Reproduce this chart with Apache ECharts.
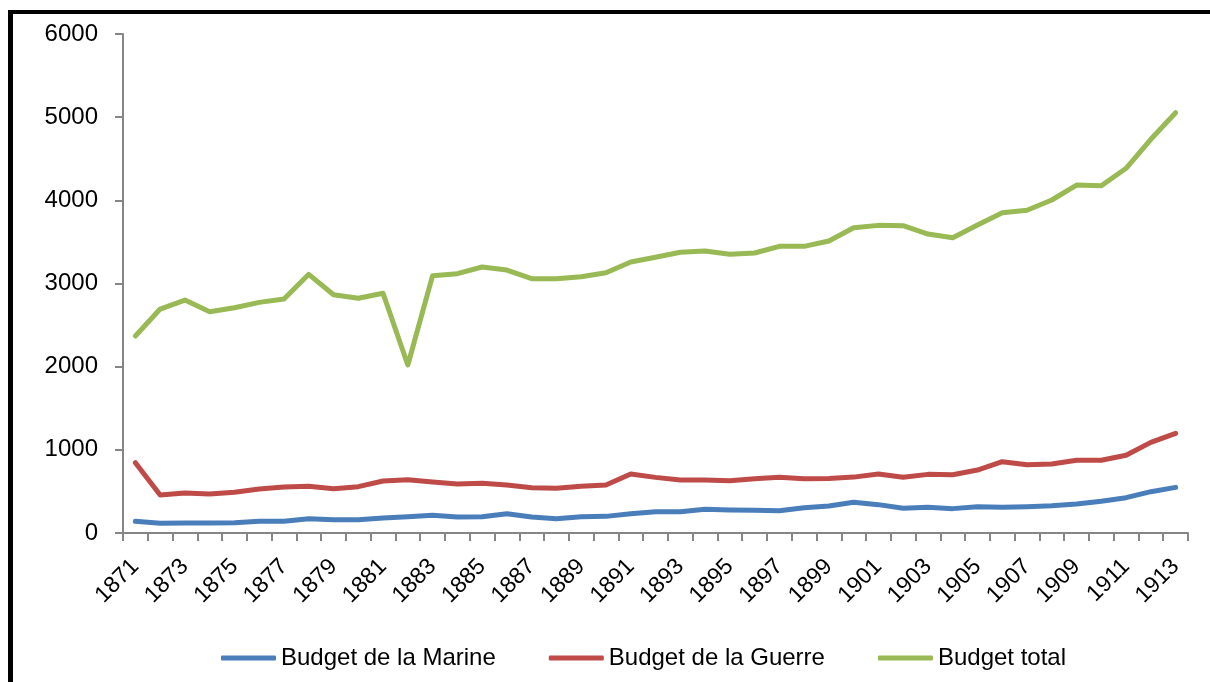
<!DOCTYPE html>
<html>
<head>
<meta charset="utf-8">
<title>Budgets 1871-1913</title>
<script src="https://cdn.jsdelivr.net/npm/echarts@6/dist/echarts.min.js"></script>
<style>
  html, body { margin: 0; padding: 0; background: #fff; }
  #wrap { position: relative; width: 1210px; height: 682px; overflow: hidden; }
  #chart { width: 1210px; height: 682px; }
  /* cadre noir de la capture (gauche + haut) */
  #frame {
    position: absolute; left: 8px; top: 10px; width: 1300px; height: 800px;
    border-left: 5px solid #000; border-top: 4px solid #000;
    pointer-events: none;
  }
</style>
</head>
<body>
<div id="wrap">
  <div id="chart"></div>
  <div id="frame"></div>
</div>
<script>
// années
const years = [
  "1871", "1872", "1873", "1874", "1875", "1876", "1877", "1878", "1879", "1880",
  "1881", "1882", "1883", "1884", "1885", "1886", "1887", "1888", "1889", "1890",
  "1891", "1892", "1893", "1894", "1895", "1896", "1897", "1898", "1899", "1900",
  "1901", "1902", "1903", "1904", "1905", "1906", "1907", "1908", "1909", "1910",
  "1911", "1912", "1913"
];
// budget de la Marine
const marine = [
  140, 118, 120, 120, 124, 140, 141, 172, 160, 160, 180, 196, 212, 192, 196,
  232, 192, 172, 196, 200, 232, 256, 256, 285, 277, 273, 268, 304, 325,
  370, 341, 297, 309, 293, 317, 309, 317, 329, 349, 381, 425, 497, 549
];
// budget de la Guerre
const guerre = [
  845, 457, 481, 469, 489, 529, 553, 561, 533, 557, 625, 641, 613, 589, 597,
  577, 545, 537, 561, 577, 709, 669, 637, 637, 629, 653, 669, 653, 655,
  672, 709, 670, 705, 701, 757, 857, 821, 830, 874, 874, 934, 1090, 1198
];
// budget total
const total = [
  2369, 2693, 2801, 2661, 2709, 2773, 2813, 3110, 2865, 2822, 2882, 2020, 3094, 3118, 3198,
  3162, 3058, 3058, 3082, 3130, 3258, 3315, 3375, 3391, 3351, 3367, 3447, 3447, 3511,
  3671, 3699, 3695, 3595, 3551, 3703, 3852, 3880, 4004, 4184, 4176, 4385, 4734, 5054
];
const seriesNames = ["Budget de la Marine", "Budget de la Guerre", "Budget total"];
const colors = ["#4A7EBB", "#BE4B48", "#98B954"];

const font = "'Liberation Sans', Arial, sans-serif";
const axisColor = "#868686";

const chart = echarts.init(document.getElementById("chart"));

function makeLine(name, data, color) {
  return {
    name: name,
    type: "line",
    data: data,
    showSymbol: false,
    symbol: "none",
    lineStyle: { color: color, width: 5, cap: "round", join: "round" },
    itemStyle: { color: color }
  };
}

chart.setOption({
  animation: false,
  color: colors,
  grid: { left: 123, right: 22, top: 34, bottom: 149 },
  legend: {
    left: 216,
    top: 641,
    itemWidth: 55,
    itemHeight: 5,
    itemGap: 53,
    icon: "roundRect",
    textStyle: { fontFamily: font, fontSize: 24, color: "#000" },
    data: seriesNames
  },
  xAxis: {
    type: "category",
    data: years,
    boundaryGap: true,
    axisLine: { lineStyle: { color: axisColor, width: 2 } },
    axisTick: { show: true, interval: 0, length: 8, lineStyle: { color: axisColor, width: 2 } },
    axisLabel: {
      interval: 1,
      rotate: 45,
      margin: 30,
      fontFamily: font,
      fontSize: 23,
      color: "#000"
    },
    splitLine: { show: false }
  },
  yAxis: {
    type: "value",
    min: 0,
    max: 6000,
    interval: 1000,
    axisLine: { show: true, lineStyle: { color: axisColor, width: 2 } },
    axisTick: { show: true, length: 8, lineStyle: { color: axisColor, width: 2 } },
    axisLabel: {
      margin: 25,
      fontFamily: font,
      fontSize: 24,
      color: "#000",
      formatter: (v) => String(v)
    },
    splitLine: { show: false }
  },
  series: [
    makeLine(seriesNames[0], marine, colors[0]),
    makeLine(seriesNames[1], guerre, colors[1]),
    makeLine(seriesNames[2], total, colors[2])
  ]
});
</script>
</body>
</html>
